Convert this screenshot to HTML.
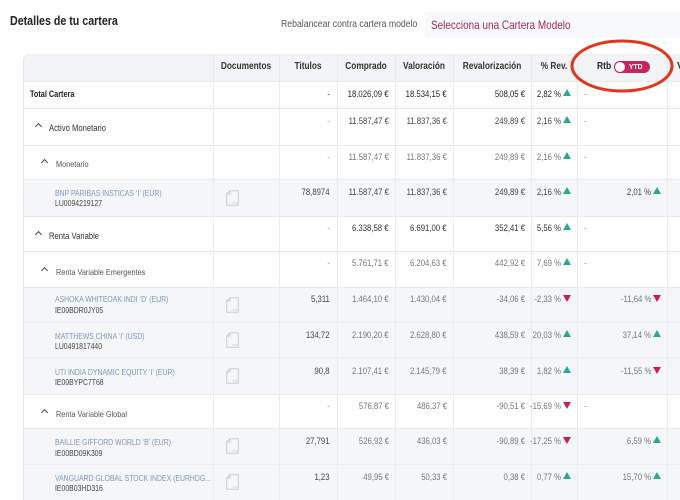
<!DOCTYPE html>
<html><head><meta charset="utf-8">
<style>
*{box-sizing:border-box}
html,body{margin:0;padding:0;width:680px;height:500px;overflow:hidden}
body{background:#fff;position:relative;font-family:"Liberation Sans",Arial,sans-serif;}
.a{position:absolute;white-space:nowrap;line-height:12px;height:12px;margin-top:-6px}
.L{transform-origin:0 50%}
.bg{position:absolute;left:24px;width:656px}
.hl{position:absolute;left:24px;width:656px;height:1px;background:#e7eaed}
.vl{position:absolute;top:54px;width:1px;height:446px;background:#e9ecef}
.hd{position:absolute;top:67px;font-size:10px;font-weight:bold;color:#333;line-height:12px;margin-top:-6px;white-space:nowrap;transform:scaleX(.83);transform-origin:50% 50%;text-align:center}
.v{position:absolute;font-size:9px;line-height:12px;margin-top:-6px;white-space:nowrap;transform:scaleX(.86);transform-origin:100% 50%;color:#444}
.c1{right:350px}.c2{right:291px}.c3{right:233px}.c4{right:155px}.c5{right:119px}.c6{right:29px}
.lt{color:#777}
.dim{color:#9a9a9a}
.up,.dn{position:absolute;width:0;height:0;border-left:4px solid transparent;border-right:4px solid transparent}
.up{border-bottom:7px solid #2aa894;margin-top:-5px}
.dn{border-top:7px solid #c41f58;margin-top:-4px}
.p5{left:563px}.p6{left:653px}
.dash{position:absolute;left:584px;font-size:9px;color:#999;line-height:12px;margin-top:-6px}
.fn{position:absolute;left:55px;font-size:8.5px;color:#7f97b9;line-height:11px;margin-top:-5.5px;white-space:nowrap;transform:scaleX(.81);transform-origin:0 50%}
.is{position:absolute;left:55px;font-size:8.5px;color:#444;line-height:11px;margin-top:-5.5px;white-space:nowrap;transform:scaleX(.81);transform-origin:0 50%}
.cat1{position:absolute;left:49px;font-size:9px;color:#333;line-height:12px;margin-top:-6px;white-space:nowrap;transform:scaleX(.85);transform-origin:0 50%}
.cat2{position:absolute;left:56px;font-size:8.5px;color:#555;line-height:12px;margin-top:-6px;white-space:nowrap;transform:scaleX(.86);transform-origin:0 50%}
.ch{position:absolute;width:5px;height:5px;border-left:1.3px solid #444;border-top:1.3px solid #444;transform:rotate(45deg)}
.ch1{left:35.5px}.ch2{left:42px}
.doc{position:absolute;left:226px;width:13px;height:16px}
</style></head><body>

<!-- top bar -->
<div class="a L" style="left:10px;top:21px;font-size:13px;font-weight:bold;color:#222;line-height:16px;height:16px;margin-top:-8px;transform:scaleX(.82)">Detalles de tu cartera</div>
<div class="a L" style="left:281px;top:25px;font-size:10px;color:#555;transform:scaleX(.87)">Rebalancear contra cartera modelo</div>
<div style="position:absolute;left:425px;top:12px;width:255px;height:26px;background:#f8f9fa"></div>
<div class="a L" style="left:431px;top:25px;font-size:12px;color:#a8285c;line-height:14px;height:14px;margin-top:-7px;transform:scaleX(.83)">Selecciona una Cartera Modelo</div>

<!-- table container -->
<div style="position:absolute;left:23px;top:54px;width:657px;height:446px;border-left:1px solid #e3e6ea;border-top:1px solid #eceef1;border-top-left-radius:6px;overflow:hidden">
  <div style="position:absolute;left:0;top:0;width:680px;height:27px;background:#f2f4f6"></div>
</div>

<!-- gray rows -->
<div class="bg" style="top:179px;height:37px;background:#f4f6f8"></div>
<div class="bg" style="top:287px;height:107px;background:#f4f6f8"></div>
<div class="bg" style="top:428px;height:72px;background:#f4f6f8"></div>

<!-- horizontal lines -->
<div class="hl" style="top:81px"></div>
<div class="hl" style="top:108px"></div>
<div class="hl" style="top:145px"></div>
<div class="hl" style="top:179px"></div>
<div class="hl" style="top:216px"></div>
<div class="hl" style="top:251px"></div>
<div class="hl" style="top:287px"></div>
<div class="hl" style="top:322px;background:#eceef1"></div>
<div class="hl" style="top:357px;background:#eceef1"></div>
<div class="hl" style="top:394px"></div>
<div class="hl" style="top:428px"></div>
<div class="hl" style="top:464px;background:#eceef1"></div>

<!-- vertical lines -->
<div class="vl" style="left:213px"></div>
<div class="vl" style="left:279px"></div>
<div class="vl" style="left:337px"></div>
<div class="vl" style="left:395px"></div>
<div class="vl" style="left:453px"></div>
<div class="vl" style="left:531px"></div>
<div class="vl" style="left:577px"></div>
<div class="vl" style="left:667px"></div>

<!-- header -->
<div class="hd" style="left:213px;width:66px">Documentos</div>
<div class="hd" style="left:279px;width:58px">Titulos</div>
<div class="hd" style="left:337px;width:58px">Comprado</div>
<div class="hd" style="left:395px;width:58px">Valoración</div>
<div class="hd" style="left:453px;width:78px">Revalorización</div>
<div class="hd" style="left:531px;width:46px">% Rev.</div>
<div class="a L" style="left:597px;top:67px;font-size:10px;font-weight:bold;color:#222;transform:scaleX(.85)">Rtb</div>
<div style="position:absolute;left:614px;top:61px;width:36px;height:12px;border-radius:6px;background:#c8255c"></div>
<div style="position:absolute;left:614px;top:61px;width:12px;height:12px;border-radius:6px;background:#fff;border:1.5px solid #c8255c"></div>
<div class="a L" style="left:629px;top:67px;font-size:7.5px;font-weight:bold;color:#fff;transform:scaleX(.9)">YTD</div>
<div class="a L" style="left:677px;top:67px;font-size:10px;font-weight:bold;color:#333">V</div>

<!-- names column -->
<div class="a L" style="left:30px;top:94px;font-size:9px;font-weight:bold;color:#222;transform:scaleX(.81)">Total Cartera</div>

<div class="ch ch1" style="top:124px"></div>
<div class="cat1" style="top:128px">Activo Monetario</div>

<div class="ch ch2" style="top:160px"></div>
<div class="cat2" style="top:164px">Monetario</div>

<div class="fn" style="top:193px">BNP PARIBAS INSTICAS ‘I’ (EUR)</div>
<div class="is" style="top:203px">LU0094219127</div>

<div class="ch ch1" style="top:232px"></div>
<div class="cat1" style="top:236px">Renta Variable</div>

<div class="ch ch2" style="top:268px"></div>
<div class="cat2" style="top:272px">Renta Variable Emergentes</div>

<div class="fn" style="top:299px">ASHOKA WHITEOAK INDI ‘D’ (EUR)</div>
<div class="is" style="top:310px">IE00BDR0JY05</div>

<div class="fn" style="top:336px">MATTHEWS CHINA ‘I’ (USD)</div>
<div class="is" style="top:346px">LU0491817440</div>

<div class="fn" style="top:372px">UTI INDIA DYNAMIC EQUITY ‘I’ (EUR)</div>
<div class="is" style="top:382px">IE00BYPC7T68</div>

<div class="ch ch2" style="top:410px"></div>
<div class="cat2" style="top:414px">Renta Variable Global</div>

<div class="fn" style="top:442px">BAILLIE GIFFORD WORLD ‘B’ (EUR)</div>
<div class="is" style="top:453px">IE00BD09K309</div>

<div class="fn" style="top:478px">VANGUARD GLOBAL STOCK INDEX (EURHDG...</div>
<div class="is" style="top:488px">IE00B03HD316</div>

<!-- doc icons -->
<svg class="doc" style="top:190px" viewBox="0 0 13 16"><path d="M4 0.7H12.3V15.3H0.7V4Z M4 0.7V4H0.7" fill="none" stroke="#c9ced4" stroke-width="1"/><text x="6.5" y="14" font-size="3" fill="#c9ced4" font-family="Liberation Sans">PDF</text></svg>
<svg class="doc" style="top:297px" viewBox="0 0 13 16"><path d="M4 0.7H12.3V15.3H0.7V4Z M4 0.7V4H0.7" fill="none" stroke="#c9ced4" stroke-width="1"/><text x="6.5" y="14" font-size="3" fill="#c9ced4" font-family="Liberation Sans">PDF</text></svg>
<svg class="doc" style="top:332px" viewBox="0 0 13 16"><path d="M4 0.7H12.3V15.3H0.7V4Z M4 0.7V4H0.7" fill="none" stroke="#c9ced4" stroke-width="1"/><text x="6.5" y="14" font-size="3" fill="#c9ced4" font-family="Liberation Sans">PDF</text></svg>
<svg class="doc" style="top:368px" viewBox="0 0 13 16"><path d="M4 0.7H12.3V15.3H0.7V4Z M4 0.7V4H0.7" fill="none" stroke="#c9ced4" stroke-width="1"/><text x="6.5" y="14" font-size="3" fill="#c9ced4" font-family="Liberation Sans">PDF</text></svg>
<svg class="doc" style="top:438px" viewBox="0 0 13 16"><path d="M4 0.7H12.3V15.3H0.7V4Z M4 0.7V4H0.7" fill="none" stroke="#c9ced4" stroke-width="1"/><text x="6.5" y="14" font-size="3" fill="#c9ced4" font-family="Liberation Sans">PDF</text></svg>
<svg class="doc" style="top:474px" viewBox="0 0 13 16"><path d="M4 0.7H12.3V15.3H0.7V4Z M4 0.7V4H0.7" fill="none" stroke="#c9ced4" stroke-width="1"/><text x="6.5" y="14" font-size="3" fill="#c9ced4" font-family="Liberation Sans">PDF</text></svg>

<!-- row 1 Total -->
<div class="v c1" style="top:94px;color:#333">-</div>
<div class="v c2" style="top:94px;color:#222">18.026,09 €</div>
<div class="v c3" style="top:94px;color:#222">18.534,15 €</div>
<div class="v c4" style="top:94px;color:#222">508,05 €</div>
<div class="v c5" style="top:94px;color:#222">2,82 %</div><div class="up p5" style="top:94px"></div>
<div class="dash" style="top:94px">-</div>

<!-- row 2 Activo Monetario -->
<div class="v c1 dim" style="top:121px">-</div>
<div class="v c2" style="top:121px">11.587,47 €</div>
<div class="v c3" style="top:121px">11.837,36 €</div>
<div class="v c4" style="top:121px">249,89 €</div>
<div class="v c5" style="top:121px">2,16 %</div><div class="up p5" style="top:121px"></div>
<div class="dash" style="top:121px">-</div>

<!-- row 3 Monetario -->
<div class="v c1 dim" style="top:157px">-</div>
<div class="v c2 lt" style="top:157px">11.587,47 €</div>
<div class="v c3 lt" style="top:157px">11.837,36 €</div>
<div class="v c4 lt" style="top:157px">249,89 €</div>
<div class="v c5 lt" style="top:157px">2,16 %</div><div class="up p5" style="top:157px"></div>
<div class="dash" style="top:157px">-</div>

<!-- row 4 BNP -->
<div class="v c1" style="top:192px">78,8974</div>
<div class="v c2" style="top:192px">11.587,47 €</div>
<div class="v c3" style="top:192px">11.837,36 €</div>
<div class="v c4" style="top:192px">249,89 €</div>
<div class="v c5" style="top:192px">2,16 %</div><div class="up p5" style="top:192px"></div>
<div class="v c6" style="top:192px">2,01 %</div><div class="up p6" style="top:192px"></div>

<!-- row 5 Renta Variable -->
<div class="v c1 dim" style="top:228px">-</div>
<div class="v c2" style="top:228px;color:#333">6.338,58 €</div>
<div class="v c3" style="top:228px;color:#333">6.691,00 €</div>
<div class="v c4" style="top:228px;color:#333">352,41 €</div>
<div class="v c5" style="top:228px;color:#333">5,56 %</div><div class="up p5" style="top:228px"></div>
<div class="dash" style="top:228px">-</div>

<!-- row 6 RV Emergentes -->
<div class="v c1 dim" style="top:263px">-</div>
<div class="v c2 lt" style="top:263px">5.761,71 €</div>
<div class="v c3 lt" style="top:263px">6.204,63 €</div>
<div class="v c4 lt" style="top:263px">442,92 €</div>
<div class="v c5 lt" style="top:263px">7,69 %</div><div class="up p5" style="top:263px"></div>
<div class="dash" style="top:263px">-</div>

<!-- row 7 ASHOKA -->
<div class="v c1" style="top:299px">5,311</div>
<div class="v c2 lt" style="top:299px">1.464,10 €</div>
<div class="v c3 lt" style="top:299px">1.430,04 €</div>
<div class="v c4 lt" style="top:299px">-34,06 €</div>
<div class="v c5 lt" style="top:299px">-2,33 %</div><div class="dn p5" style="top:299px"></div>
<div class="v c6 lt" style="top:299px">-11,64 %</div><div class="dn p6" style="top:299px"></div>

<!-- row 8 MATTHEWS -->
<div class="v c1" style="top:335px">134,72</div>
<div class="v c2 lt" style="top:335px">2.190,20 €</div>
<div class="v c3 lt" style="top:335px">2.628,80 €</div>
<div class="v c4 lt" style="top:335px">438,59 €</div>
<div class="v c5 lt" style="top:335px">20,03 %</div><div class="up p5" style="top:335px"></div>
<div class="v c6 lt" style="top:335px">37,14 %</div><div class="up p6" style="top:335px"></div>

<!-- row 9 UTI -->
<div class="v c1" style="top:371px">90,8</div>
<div class="v c2 lt" style="top:371px">2.107,41 €</div>
<div class="v c3 lt" style="top:371px">2.145,79 €</div>
<div class="v c4 lt" style="top:371px">38,39 €</div>
<div class="v c5 lt" style="top:371px">1,82 %</div><div class="up p5" style="top:371px"></div>
<div class="v c6 lt" style="top:371px">-11,55 %</div><div class="dn p6" style="top:371px"></div>

<!-- row 10 RV Global -->
<div class="v c1 dim" style="top:406px">-</div>
<div class="v c2 lt" style="top:406px">576,87 €</div>
<div class="v c3 lt" style="top:406px">486,37 €</div>
<div class="v c4 lt" style="top:406px">-90,51 €</div>
<div class="v c5 lt" style="top:406px">-15,69 %</div><div class="dn p5" style="top:406px"></div>
<div class="dash" style="top:406px">-</div>

<!-- row 11 BAILLIE -->
<div class="v c1" style="top:441px">27,791</div>
<div class="v c2 lt" style="top:441px">526,92 €</div>
<div class="v c3 lt" style="top:441px">436,03 €</div>
<div class="v c4 lt" style="top:441px">-90,89 €</div>
<div class="v c5 lt" style="top:441px">-17,25 %</div><div class="dn p5" style="top:441px"></div>
<div class="v c6 lt" style="top:441px">6,59 %</div><div class="up p6" style="top:441px"></div>

<!-- row 12 VANGUARD -->
<div class="v c1" style="top:477px">1,23</div>
<div class="v c2 lt" style="top:477px">49,95 €</div>
<div class="v c3 lt" style="top:477px">50,33 €</div>
<div class="v c4 lt" style="top:477px">0,38 €</div>
<div class="v c5 lt" style="top:477px">0,77 %</div><div class="up p5" style="top:477px"></div>
<div class="v c6 lt" style="top:477px">15,70 %</div><div class="up p6" style="top:477px"></div>

<!-- red annotation ellipse -->
<svg style="position:absolute;left:0;top:0" width="680" height="500" viewBox="0 0 680 500">
  <ellipse cx="622" cy="66" rx="50" ry="25" fill="none" stroke="#e0361e" stroke-width="3"/>
</svg>

</body></html>
